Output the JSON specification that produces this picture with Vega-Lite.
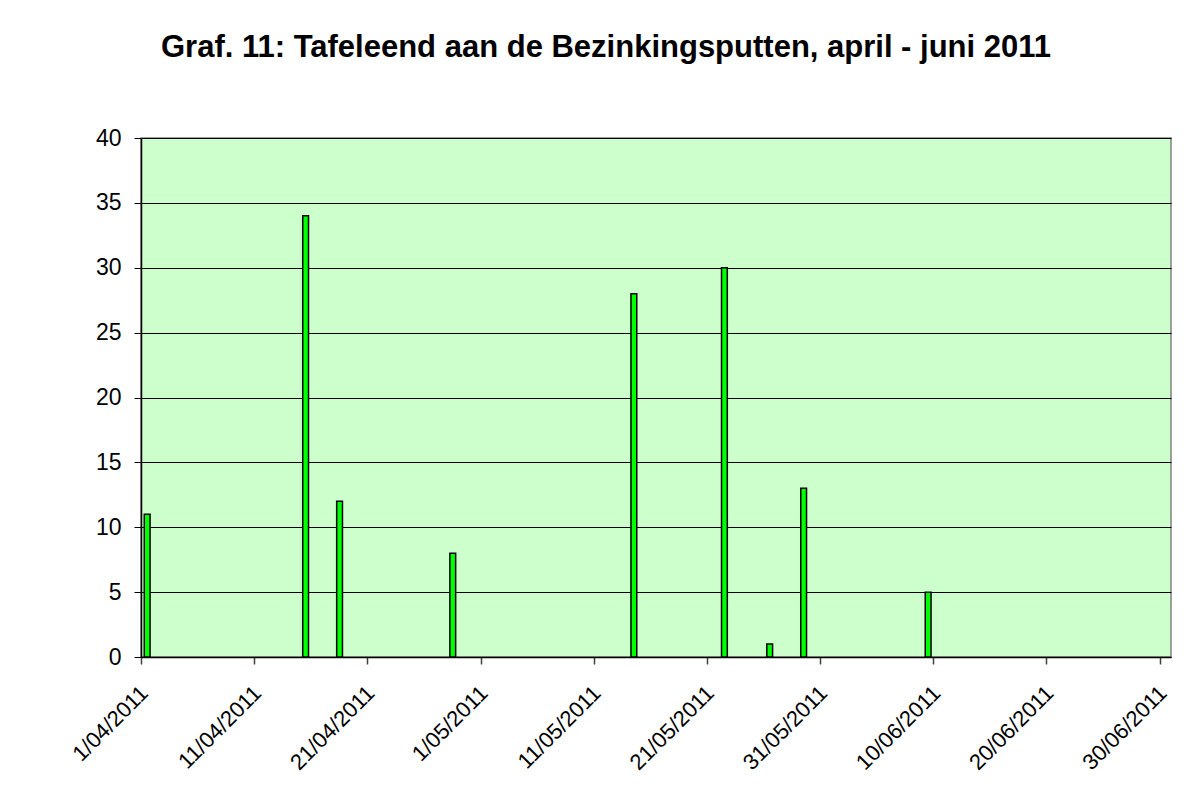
{
  "$schema": "https://vega.github.io/schema/vega-lite/v6.json",
  "width": 1030,
  "height": 519,
  "autosize": {"type": "none"},
  "padding": {"left": 141, "top": 138, "right": 17, "bottom": 150},
  "background": "white",
  "title": {
    "text": "Graf. 11: Tafeleend aan de Bezinkingsputten, april - juni 2011",
    "font": "Liberation Sans",
    "fontSize": 31,
    "fontWeight": "bold",
    "color": "black",
    "anchor": "middle",
    "dx": -50,
    "offset": 63
  },
  "data": {
    "values": [
      {"datum": "2011-04-01", "aantal": 11},
      {"datum": "2011-04-15", "aantal": 34},
      {"datum": "2011-04-18", "aantal": 12},
      {"datum": "2011-04-28", "aantal": 8},
      {"datum": "2011-05-14", "aantal": 28},
      {"datum": "2011-05-22", "aantal": 30},
      {"datum": "2011-05-26", "aantal": 1},
      {"datum": "2011-05-29", "aantal": 13},
      {"datum": "2011-06-09", "aantal": 5}
    ]
  },
  "mark": {"type": "bar", "fill": "#00FF00", "stroke": "black", "strokeWidth": 1.5, "width": {"band": 0.6}},
  "encoding": {
    "x": {
      "field": "datum",
      "type": "temporal",
      "timeUnit": "utcyearmonthdate",
      "scale": {"type": "utc", "domain": [{"year": 2011, "month": 4, "date": 1, "utc": true}, {"year": 2011, "month": 7, "date": 1, "utc": true}]},
      "title": null,
      "axis": {
        "values": [
          {"year": 2011, "month": 4, "date": 1, "utc": true},
          {"year": 2011, "month": 4, "date": 11, "utc": true},
          {"year": 2011, "month": 4, "date": 21, "utc": true},
          {"year": 2011, "month": 5, "date": 1, "utc": true},
          {"year": 2011, "month": 5, "date": 11, "utc": true},
          {"year": 2011, "month": 5, "date": 21, "utc": true},
          {"year": 2011, "month": 5, "date": 31, "utc": true},
          {"year": 2011, "month": 6, "date": 10, "utc": true},
          {"year": 2011, "month": 6, "date": 20, "utc": true},
          {"year": 2011, "month": 6, "date": 30, "utc": true}
        ],
        "labelExpr": "utcFormat(datum.value, '%-d/%m/%Y')",
        "labelAngle": -45,
        "labelAlign": "right",
        "labelBaseline": "top",
        "labelFont": "Liberation Sans",
        "labelFontSize": 22,
        "labelColor": "black",
        "labelPadding": 18,
        "labelOffset": -4,
        "labelOverlap": false,
        "labelFlush": false,
        "grid": false,
        "domainColor": "black",
        "domainWidth": 1.5,
        "tickColor": "#404040",
        "tickSize": 7,
        "tickWidth": 1.5
      }
    },
    "y": {
      "field": "aantal",
      "type": "quantitative",
      "scale": {"domain": [0, 40]},
      "title": null,
      "axis": {
        "values": [0, 5, 10, 15, 20, 25, 30, 35, 40],
        "labelFont": "Liberation Sans",
        "labelFontSize": 23,
        "labelColor": "black",
        "labelPadding": 13,
        "grid": true,
        "gridColor": "black",
        "gridWidth": 1,
        "gridOpacity": 1,
        "domainColor": "black",
        "domainWidth": 1.5,
        "tickColor": "black",
        "tickSize": 7,
        "tickWidth": 1
      }
    }
  },
  "config": {
    "view": {"fill": "#CCFFCC", "stroke": "#808080", "strokeWidth": 1.5}
  }
}
